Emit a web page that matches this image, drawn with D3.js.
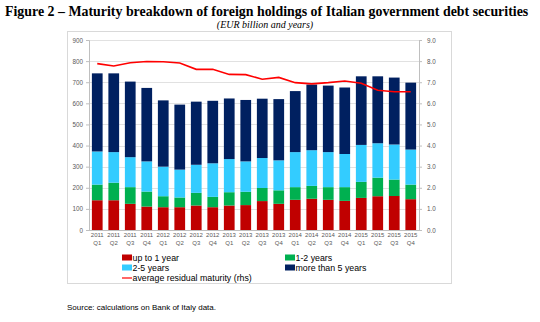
<!DOCTYPE html>
<html lang="en">
<head>
<meta charset="UTF-8">
<title>Maturity breakdown of foreign holdings</title>
<script src="https://d3js.org/d3.v7.min.js"></script>
<style>
    body { margin: 0; background: #fff; }
    svg text { font-family: "Liberation Sans", Arial, sans-serif; }
    .title { font-family: "Liberation Serif", "Times New Roman", serif !important; font-weight: bold; font-size: 13.9px; fill: #000; }
    .subtitle { font-family: "Liberation Serif", "Times New Roman", serif !important; font-style: italic; font-size: 10px; fill: #000; }
    .tick text { font-size: 6.3px; fill: #595959; }
    .xaxis .tick text { font-size: 6px; }
    .legend text { font-size: 8.8px; fill: #000; }
    .source { font-size: 8px; fill: #000; }
</style>
</head>
<body>
<svg width="540" height="322"></svg>
<script>
const years = ["2011","2011","2011","2011","2012","2012","2012","2012","2013","2013","2013","2013",
               "2014","2014","2014","2014","2015","2015","2015","2015"];
const quarters = ["Q1","Q2","Q3","Q4","Q1","Q2","Q3","Q4","Q1","Q2","Q3","Q4",
                  "Q1","Q2","Q3","Q4","Q1","Q2","Q3","Q4"];

// EUR billion, per maturity bucket
const upTo1 = [141, 141, 124, 111, 108, 108, 116, 108, 116, 118, 137, 124, 143, 148, 143, 138, 152, 160, 161, 146];
const oneTo2 = [74, 83, 79, 71, 52, 46, 60, 49, 63, 63, 62, 64, 60, 61, 60, 65, 76, 88, 78, 69];
const twoTo5 = [157, 145, 142, 143, 140, 132, 133, 159, 157, 144, 142, 142, 166, 169, 166, 157, 175, 163, 166, 166];
const over5 = [370, 373, 358, 348, 314, 308, 299, 296, 287, 291, 281, 290, 289, 311, 315, 315, 325, 317, 317, 317];

// years, right-hand scale
const avgMaturity = [7.88, 7.77, 7.92, 7.98, 7.97, 7.91, 7.61, 7.61, 7.37, 7.36, 7.14, 7.23,
                     6.98, 6.92, 6.98, 7.06, 6.95, 6.62, 6.55, 6.55];

const leftTicks = [0, 100, 200, 300, 400, 500, 600, 700, 800, 900];
const rightTicks = [0, 1, 2, 3, 4, 5, 6, 7, 8, 9];

const seriesNames = ["up to 1 year", "1-2 years", "2-5 years", "more than 5 years"];
const colors = ["#c00000", "#00b050", "#33ccff", "#002060"];
const lineColor = "#ff0000";

const svg = d3.select("svg");

svg.append("text").attr("class", "title")
    .attr("x", 5).attr("y", 16)
    .text("Figure 2 \u2013 Maturity breakdown of foreign holdings of Italian government debt securities");
svg.append("text").attr("class", "subtitle")
    .attr("x", 265).attr("y", 28).attr("text-anchor", "middle")
    .text("(EUR billion and years)");

// chart frame
svg.append("rect")
    .attr("x", 67.5).attr("y", 31.5).attr("width", 384).attr("height", 252)
    .attr("fill", "none").attr("stroke", "#d9d9d9");

const plotL = 89, plotR = 419, plotT = 40, plotB = 230;
const idx = d3.range(years.length);

const x = d3.scaleBand().domain(idx).range([plotL, plotR]).paddingInner(0.35).paddingOuter(0.175);
const y = d3.scaleLinear().domain([0, 900]).range([plotB, plotT]);
const y2 = d3.scaleLinear().domain([0, 9]).range([plotB, plotT]);

// gridlines
svg.append("g")
    .selectAll("line").data(leftTicks.slice(1)).join("line")
    .attr("x1", plotL).attr("x2", plotR)
    .attr("y1", d => Math.round(y(d)) + 0.5).attr("y2", d => Math.round(y(d)) + 0.5)
    .attr("stroke", "#d9d9d9").attr("stroke-width", 0.8);

// stacked bars
const table = idx.map(i => ({ i, s0: upTo1[i], s1: oneTo2[i], s2: twoTo5[i], s3: over5[i] }));
const stack = d3.stack().keys(["s0", "s1", "s2", "s3"])(table);

svg.append("g")
    .selectAll("g").data(stack).join("g")
    .attr("fill", (d, k) => colors[k])
    .selectAll("rect").data(d => d).join("rect")
    .attr("x", d => x(d.data.i))
    .attr("width", x.bandwidth())
    .attr("y", d => y(d[1]))
    .attr("height", d => y(d[0]) - y(d[1]));

// axes
const axL = svg.append("g").attr("transform", `translate(${plotL},0)`)
    .call(d3.axisLeft(y).tickValues(leftTicks).tickSize(3).tickPadding(3));
const axR = svg.append("g").attr("transform", `translate(${plotR},0)`)
    .call(d3.axisRight(y2).tickValues(rightTicks).tickSize(3).tickPadding(5).tickFormat(d3.format(".1f")));
const axB = svg.append("g").attr("class", "xaxis").attr("transform", `translate(0,${plotB})`)
    .call(d3.axisBottom(x).tickSize(0).tickPadding(5));

[axL, axR, axB].forEach(a => {
    a.select(".domain").attr("stroke", "#bfbfbf");
    a.selectAll(".tick line").attr("stroke", "#bfbfbf");
});
axB.select(".domain").attr("d", `M${plotL},0.5H${plotR}`);

axB.selectAll(".tick text").each(function(i) {
    const t = d3.select(this).text(null);
    t.append("tspan").attr("x", 0).attr("dy", "0.35em").text(years[i]);
    t.append("tspan").attr("x", 0).attr("dy", "1.3em").text(quarters[i]);
});

// average residual maturity line
svg.append("path")
    .datum(avgMaturity)
    .attr("fill", "none")
    .attr("stroke", lineColor)
    .attr("stroke-width", 1.6)
    .attr("d", d3.line().x((d, i) => x(i) + x.bandwidth() / 2).y(d => y2(d)));

// legend
const legend = svg.append("g").attr("class", "legend");
const legendPos = [[122, 258], [285, 258], [122, 268], [285, 268]];
seriesNames.forEach((name, k) => {
    const [lx, ly] = legendPos[k];
    legend.append("rect").attr("x", lx).attr("y", ly - 3.5).attr("width", 10).attr("height", 6)
        .attr("fill", colors[k]);
    legend.append("text").attr("x", lx + 10.5).attr("y", ly + 3).text(name);
});
legend.append("line").attr("x1", 122).attr("x2", 132).attr("y1", 278).attr("y2", 278)
    .attr("stroke", lineColor).attr("stroke-width", 1.2);
legend.append("text").attr("x", 132.5).attr("y", 281).text("average residual maturity (rhs)");

svg.append("text").attr("class", "source")
    .attr("x", 67).attr("y", 310)
    .text("Source: calculations on Bank of Italy data.");
</script>
</body>
</html>
